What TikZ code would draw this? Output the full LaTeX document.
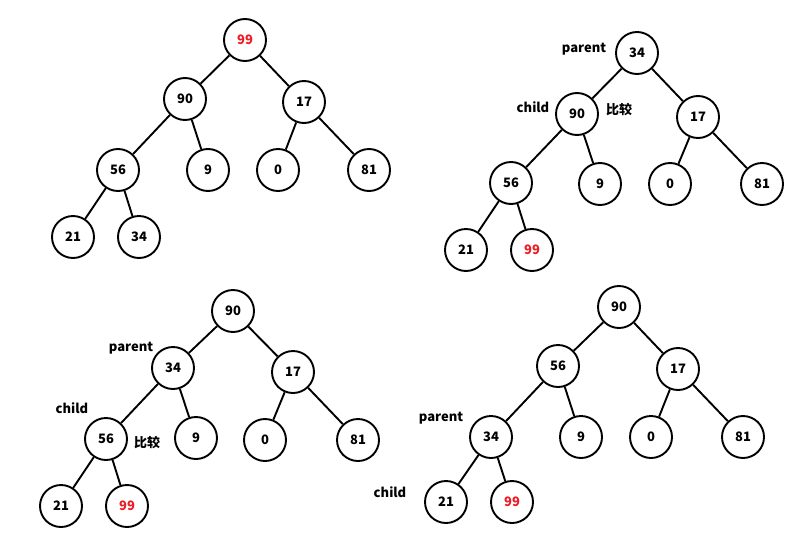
\documentclass[tikz,border=0pt]{standalone}
\usepackage{fontspec}
\setmainfont{Noto Sans CJK SC}
\usetikzlibrary{positioning}
\definecolor{heapred}{RGB}{237,28,36}
\tikzset{
  heapnode/.style={circle, draw, line width=1.9pt, minimum size=42pt, inner sep=0pt,
    font=\fontsize{13}{15}\selectfont\bfseries},
  tag/.style={font=\fontsize{13}{15}\selectfont\bfseries, inner sep=0pt},
  link/.style={line width=1.9pt}
}
\newcommand{\hot}[1]{\textcolor{heapred}{#1}}

\begin{document}
\begin{tikzpicture}[x=1pt, y=-1pt]
  \useasboundingbox (0,0) rectangle (803,533);
  % tree a: start
  \foreach \i/\x/\y/\v in {0/245/40/\hot{99}, 1/185/99/90, 2/304/102/17, 3/118/170/56,
      4/208/170/9, 5/278/170/0, 6/369/170/81, 7/73/237/21, 8/139/237/34}
    \node[heapnode] (a\i) at (\x,\y) {\v};
  % tree b: 34 moved to top
  \foreach \i/\x/\y/\v in {0/637/53/34, 1/577/114/90, 2/698/117/17, 3/511/183/56,
      4/600/184/9, 5/670/184/0, 6/762/184/81, 7/466/250/21, 8/532/250/\hot{99}}
    \node[heapnode] (b\i) at (\x,\y) {\v};
  % tree c: after first swap
  \foreach \i/\x/\y/\v in {0/233/311/90, 1/173/368/34, 2/293/372/17, 3/106/439/56,
      4/196/438/9, 5/265/440/0, 6/358/440/81, 7/61/506/21, 8/127/506/\hot{99}}
    \node[heapnode] (c\i) at (\x,\y) {\v};
  % tree d: after second swap
  \foreach \i/\x/\y/\v in {0/619/307/90, 1/558/366/56, 2/678/369/17, 3/491/437/34,
      4/581/437/9, 5/651/437/0, 6/743/437/81, 7/446/502/21, 8/512/502/\hot{99}}
    \node[heapnode] (d\i) at (\x,\y) {\v};
  % edges
  \foreach \t in {a,b,c,d}
    \foreach \p/\c in {0/1, 0/2, 1/3, 1/4, 2/5, 2/6, 3/7, 3/8}
      \draw[link] (\t\p) -- (\t\c);
  % tags
  \node[tag] (bpar) at (584,49) {parent};
  \node[tag] (bchi) at (533,107) {child};
  \node[tag] (bcmp) at (619,110) {比较};
  \node[tag] (cpar) at (131,348) {parent};
  \node[tag] (cchi) at (72,408) {child};
  \node[tag] (ccmp) at (147,443) {比较};
  \node[tag] (dpar) at (441,418) {parent};
  \node[tag] (dchi) at (390,492) {child};
\end{tikzpicture}
\end{document}
